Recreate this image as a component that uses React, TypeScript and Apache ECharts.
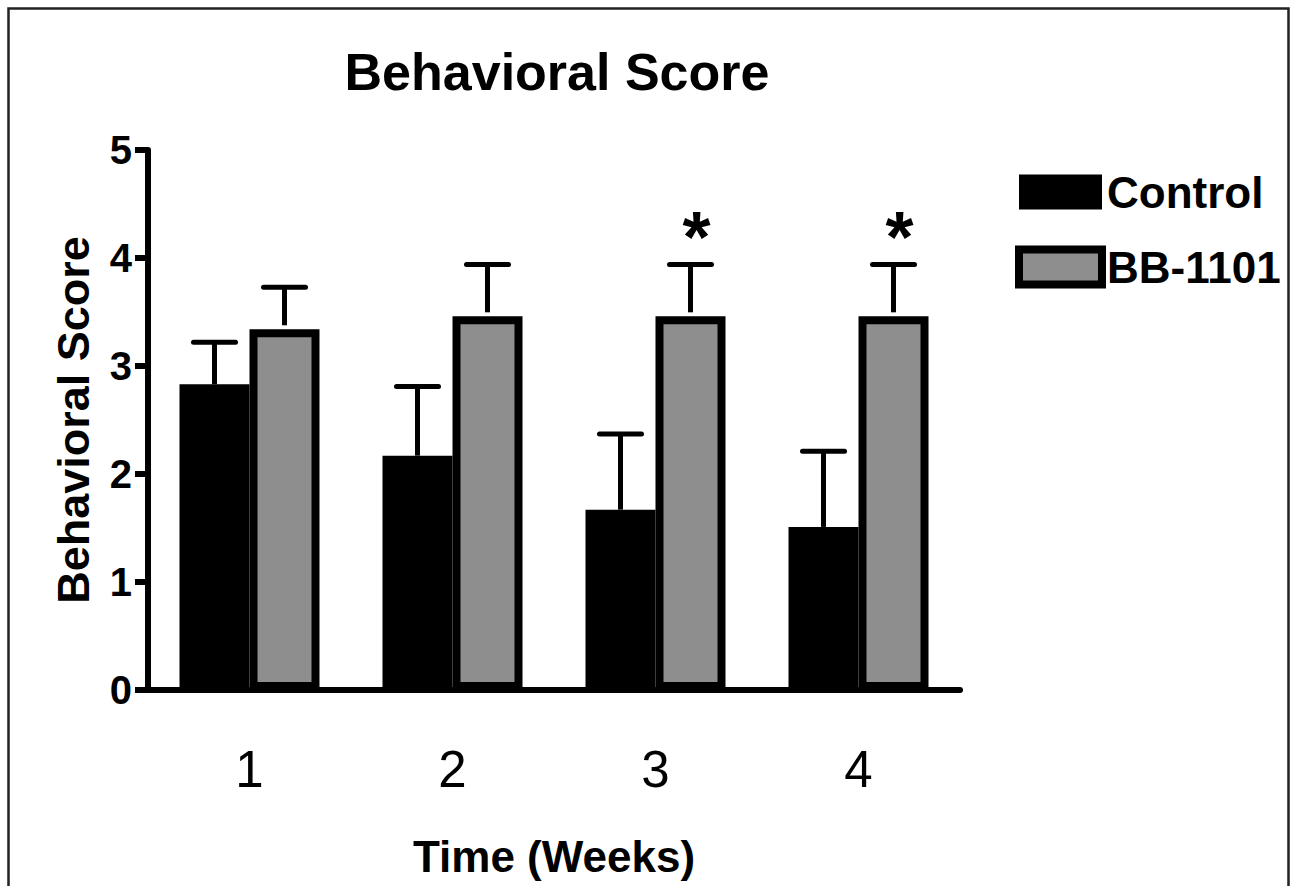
import React, { useEffect, useRef } from "react";
import * as echarts from "echarts";

const weeks = ["1", "2", "3", "4"];
const controlMean = [2.83, 2.17, 1.67, 1.51];
const controlSem = [0.39, 0.64, 0.7, 0.7];
const bbMean = [3.34, 3.46, 3.46, 3.46];
const bbSem = [0.39, 0.48, 0.48, 0.48];
const bbSig = ["", "", "*", "*"];
const controlSig = ["", "", "", ""];

const FONT = "'Liberation Sans', Arial, Helvetica, sans-serif";
const BAR_W = 70;

function errSeries(name: string, mean: number[], sem: number[], sig: string[], side: number, baseLift: number) {
  return {
    type: "custom",
    name: name + " err",
    z: 1,
    silent: true,
    renderItem: (params: any, api: any) => {
      const i = api.value(0);
      const m = api.value(1);
      const s = api.value(2);
      const b = api.coord([i, m]);
      const t = api.coord([i, m + s]);
      const cx = b[0] + (side * BAR_W) / 2;
      const children: any[] = [
        { type: "line", shape: { x1: cx, y1: b[1] - baseLift, x2: cx, y2: t[1] }, style: { stroke: "#000", lineWidth: 5 } },
        { type: "line", shape: { x1: cx - 21, y1: t[1], x2: cx + 21, y2: t[1] }, style: { stroke: "#000", lineWidth: 5, lineCap: "round" } },
      ];
      const lab = sig[params.dataIndex];
      if (lab) {
        children.push({
          type: "text",
          x: cx + 6,
          y: t[1] - 27,
          style: { text: lab, fill: "#000", font: `bold 72px ${FONT}`, textAlign: "center", textVerticalAlign: "middle" },
        });
      }
      return { type: "group", children };
    },
    data: mean.map((m, i) => [i, m, sem[i]]),
  };
}

export default function App() {
  const ref = useRef<HTMLDivElement>(null);
  useEffect(() => {
    const chart = echarts.init(ref.current!, null, { renderer: "svg" });
    chart.setOption({
      animation: false,
      backgroundColor: "#fff",
      title: {
        text: "Behavioral Score",
        left: 552,
        top: 41,
        textAlign: "center",
        textStyle: { fontFamily: FONT, fontWeight: "bold", fontSize: 52, color: "#000" },
      },
      legend: {
        orient: "vertical",
        left: 1015,
        top: 170,
        icon: "rect",
        itemWidth: 83,
        itemHeight: 35,
        itemGap: 31,
        padding: 0,
        textStyle: { fontFamily: FONT, fontWeight: "bold", fontSize: 44, color: "#000" },
        data: [
          { name: "Control", itemStyle: { color: "#000", borderWidth: 0 } },
          { name: "BB-1101", itemStyle: { color: "#8e8e8e", borderColor: "#000", borderWidth: 8 } },
        ],
      },
      grid: { left: 148, right: 335, top: 150, bottom: 196 },
      xAxis: {
        type: "category",
        data: weeks,
        axisLine: { lineStyle: { color: "#000", width: 6 } },
        axisTick: { show: false },
        axisLabel: { fontFamily: FONT, fontSize: 51, color: "#000", margin: 54 },
        name: "Time (Weeks)",
        nameLocation: "middle",
        nameGap: 144,
        nameTextStyle: { fontFamily: FONT, fontWeight: "bold", fontSize: 44, color: "#000" },
      },
      yAxis: {
        type: "value",
        min: 0,
        max: 5,
        interval: 1,
        splitLine: { show: false },
        axisLine: { show: true, lineStyle: { color: "#000", width: 6 } },
        axisTick: { show: true, length: 13, lineStyle: { color: "#000", width: 6 } },
        axisLabel: { fontFamily: FONT, fontWeight: "bold", fontSize: 40, color: "#000", margin: 16 },
        name: "Behavioral Score",
        nameLocation: "middle",
        nameGap: 52,
        nameTextStyle: { fontFamily: FONT, fontWeight: "bold", fontSize: 45, color: "#000" },
      },
      graphic: [
        {
          type: "rect",
          shape: { x: 8.5, y: 8.5, width: 1280, height: 900 },
          style: { fill: "none", stroke: "#222", lineWidth: 2.5 },
          silent: true,
          z: -10,
        },
      ],
      series: [
        {
          type: "bar",
          name: "Control",
          data: controlMean,
          barWidth: BAR_W,
          barGap: "0%",
          z: 2,
          itemStyle: { color: "#000" },
        },
        {
          type: "bar",
          name: "BB-1101",
          data: bbMean,
          barWidth: BAR_W,
          barGap: "0%",
          z: 2,
          itemStyle: { color: "#8e8e8e", borderColor: "#000", borderWidth: 8 },
        },
        errSeries("Control", controlMean, controlSem, controlSig, -1, 0),
        errSeries("BB-1101", bbMean, bbSem, bbSig, 1, 4),
      ],
    });
    return () => chart.dispose();
  }, []);
  return <div ref={ref} style={{ position: "absolute", left: 0, top: 0, width: 1295, height: 886 }} />;
}
